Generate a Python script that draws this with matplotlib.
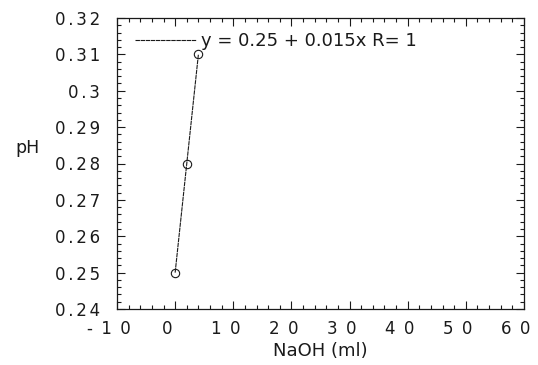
import numpy as np
import matplotlib
matplotlib.use("Agg")
import matplotlib.pyplot as plt
import matplotlib.transforms as mtransforms
from matplotlib.ticker import MultipleLocator, FixedLocator, FixedFormatter

# ---- data ----
naoh_ml = [0, 2, 4]
ph_values = [0.25, 0.28, 0.31]
x_ticks = [-10, 0, 10, 20, 30, 40, 50, 60]
x_tick_labels = ["-10", "0", "10", "20", "30", "40", "50", "60"]
y_ticks = [0.24, 0.25, 0.26, 0.27, 0.28, 0.29, 0.30, 0.31, 0.32]
y_tick_labels = ["0.24", "0.25", "0.26", "0.27", "0.28", "0.29", "0.3", "0.31", "0.32"]
x_label = "NaOH (ml)"
y_label = "pH"

INK = "#1a1a1a"
plt.rcParams['font.family'] = ['DejaVu Sans']

fig = plt.figure(figsize=(5.38, 3.65), dpi=100)
ax = fig.add_axes([117/538, 1-309/365, (524-117)/538, (309-18)/365])

# fit line
slope, intercept = np.polyfit(naoh_ml, ph_values, 1)
xf = np.array([min(naoh_ml), max(naoh_ml)])
r = np.corrcoef(naoh_ml, ph_values)[0, 1]
label = f"y = {intercept:.2f} + {slope:.3f}x R= {r:.0f}"
ax.plot(xf, intercept + slope*xf, color=INK, lw=0.8, ls=(0, (4, 0.6)), label=label)
ax.plot(naoh_ml, ph_values, ls='none', marker='o', ms=6, mfc='none', mec=INK, mew=0.8)

ax.set_xlim(-10, 60)
ax.set_ylim(0.24, 0.32)

def spaced(s, sp):
    return sp.join(list(s))

ax.xaxis.set_major_locator(FixedLocator(x_ticks))
ax.xaxis.set_major_formatter(FixedFormatter([spaced(t, "\u2002") for t in x_tick_labels]))
ax.xaxis.set_minor_locator(MultipleLocator(2))
ax.yaxis.set_major_locator(FixedLocator(y_ticks))
ax.yaxis.set_major_formatter(FixedFormatter([spaced(t, "\u2006") for t in y_tick_labels]))
ax.yaxis.set_minor_locator(MultipleLocator(0.002))

ax.tick_params(which='both', direction='in', top=True, right=True, color=INK, width=0.8,
               labelcolor=INK, labelsize=12)
ax.tick_params(which='major', length=6)
ax.tick_params(which='minor', length=3)
ax.tick_params(axis='y', pad=12)
ax.tick_params(axis='x', pad=8)
for sp in ax.spines.values():
    sp.set_color(INK)
    sp.set_linewidth(0.9)

off = mtransforms.ScaledTranslation(-8/100, 0, fig.dpi_scale_trans)
for lab in ax.get_xticklabels():
    lab.set_transform(lab.get_transform() + off)

ax.set_xlabel(x_label, fontsize=13, color=INK, labelpad=3)
fig.text(15/538, 1-153/365, y_label, fontsize=12.5, color=INK, ha='left', va='baseline')

ax.legend(loc='center left', bbox_to_anchor=((135-117)/407, (309-41)/291),
          frameon=False, fontsize=13, handlelength=3.4, handletextpad=0.25,
          borderpad=0, borderaxespad=0, labelcolor=INK)

fig.savefig("out.png", dpi=100, facecolor='white')
